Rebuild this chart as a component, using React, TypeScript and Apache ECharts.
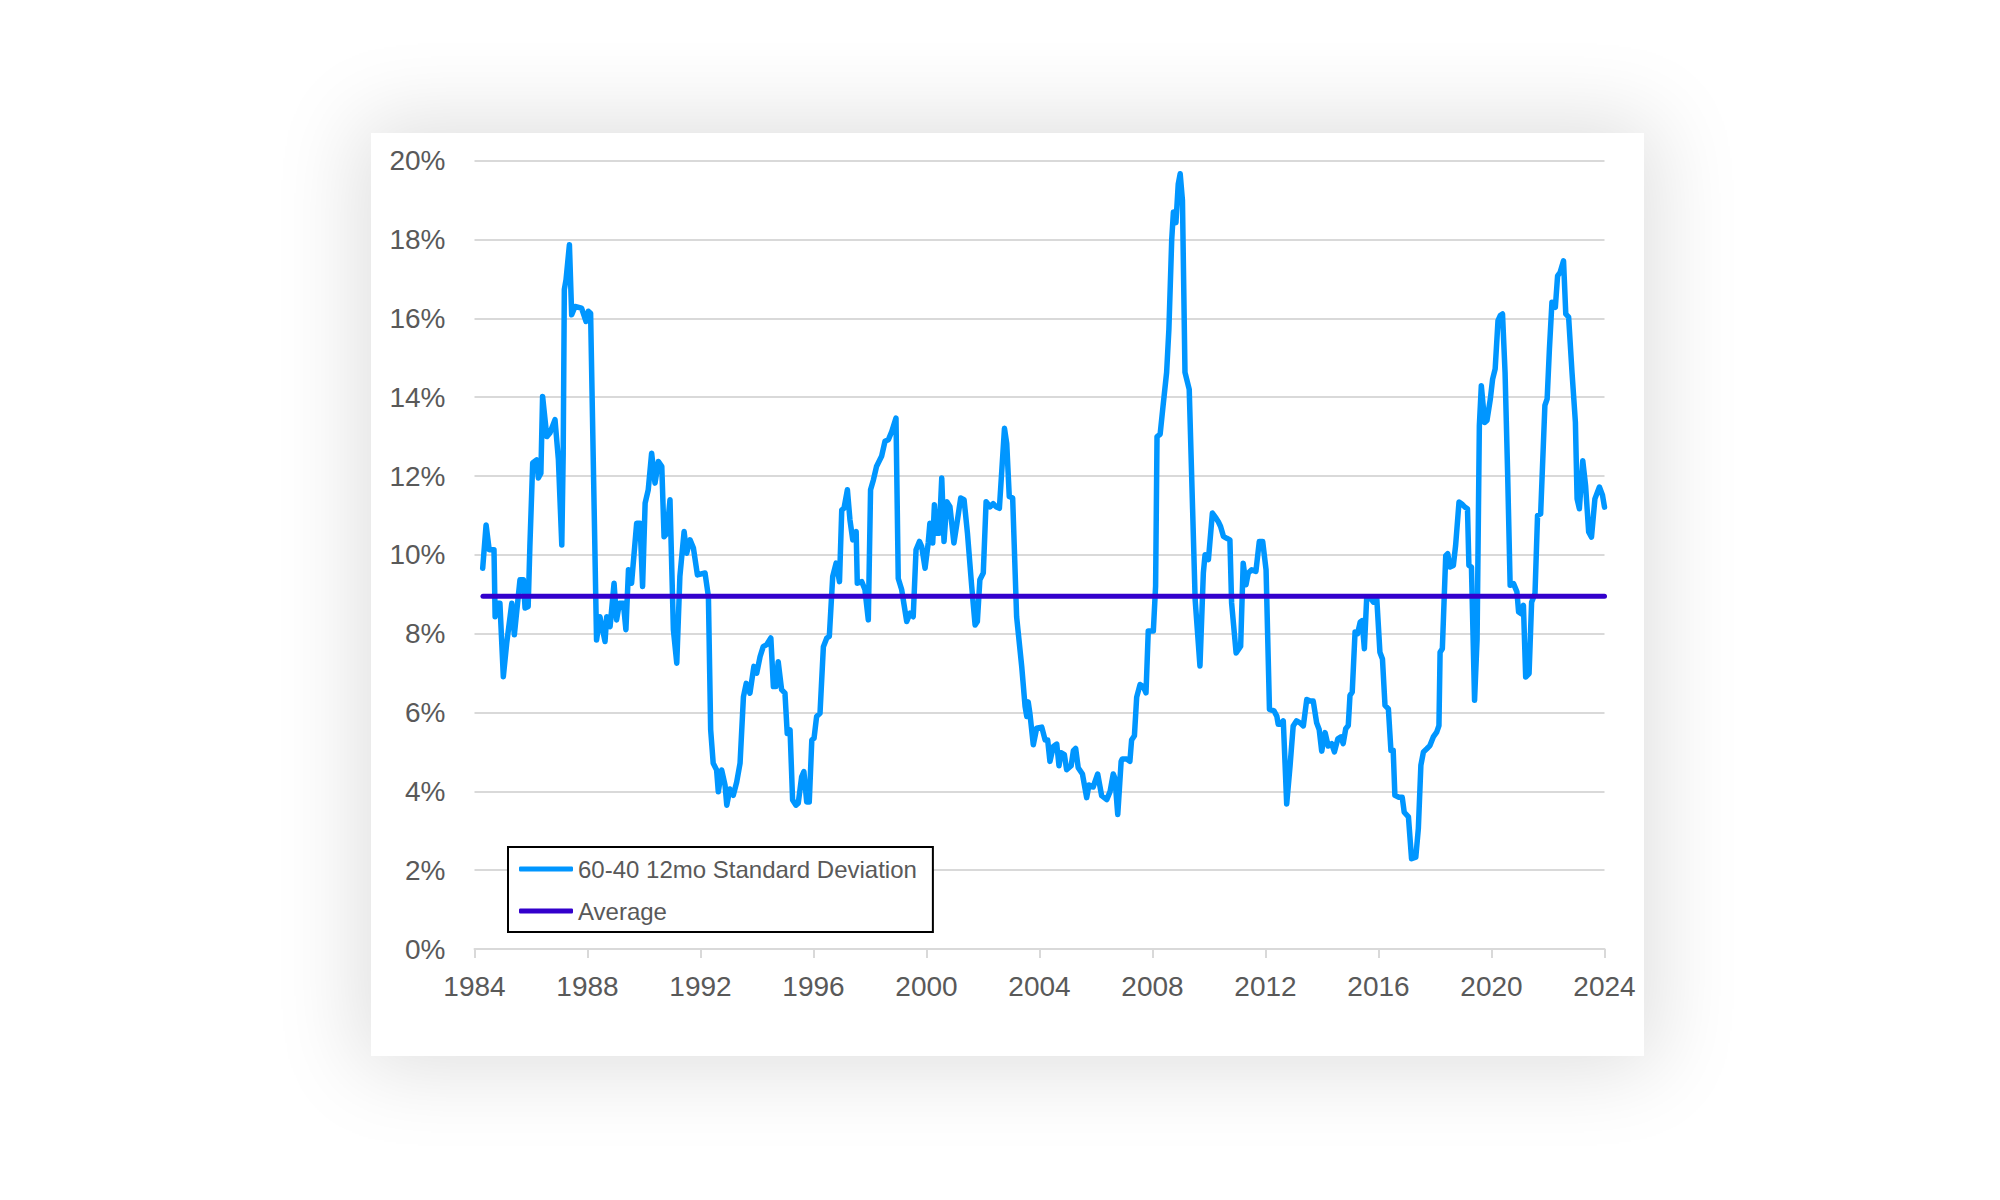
import React, { useEffect, useRef } from "react";
import * as echarts from "echarts";

// Decimal years of the traced vertices of the 12-month standard deviation line
const years: number[] = [
  1984.29, 1984.41, 1984.52, 1984.69, 1984.73, 1984.81, 1984.9, 1985.02, 1985.14, 1985.32,
  1985.41, 1985.61, 1985.73, 1985.79, 1985.9, 1985.96, 1986.06, 1986.2, 1986.26, 1986.35,
  1986.41, 1986.56, 1986.67, 1986.85, 1986.97, 1987.09, 1987.14, 1987.18, 1987.24, 1987.36,
  1987.44, 1987.56, 1987.79, 1987.95, 1988.03, 1988.11, 1988.32, 1988.44, 1988.5, 1988.62,
  1988.68, 1988.8, 1988.94, 1989.03, 1989.13, 1989.27, 1989.36, 1989.45, 1989.56, 1989.74,
  1989.86, 1989.95, 1990.04, 1990.15, 1990.27, 1990.39, 1990.51, 1990.63, 1990.71, 1990.81,
  1990.92, 1991.04, 1991.16, 1991.27, 1991.42, 1991.51, 1991.63, 1991.75, 1991.89, 1992.16,
  1992.28, 1992.36, 1992.45, 1992.57, 1992.63, 1992.75, 1992.87, 1992.93, 1993.04, 1993.16,
  1993.28, 1993.4, 1993.52, 1993.62, 1993.75, 1993.89, 1993.99, 1994.11, 1994.22, 1994.34,
  1994.49, 1994.58, 1994.67, 1994.75, 1994.87, 1994.99, 1995.07, 1995.17, 1995.26, 1995.38,
  1995.46, 1995.58, 1995.66, 1995.76, 1995.85, 1995.94, 1996.02, 1996.11, 1996.23, 1996.35,
  1996.47, 1996.56, 1996.68, 1996.8, 1996.92, 1997.0, 1997.08, 1997.2, 1997.29, 1997.39,
  1997.51, 1997.55, 1997.71, 1997.82, 1997.94, 1998.02, 1998.12, 1998.23, 1998.41, 1998.53,
  1998.65, 1998.77, 1998.92, 1999.0, 1999.12, 1999.3, 1999.42, 1999.53, 1999.63, 1999.75,
  1999.83, 1999.95, 2000.06, 2000.12, 2000.22, 2000.28, 2000.36, 2000.45, 2000.54, 2000.62,
  2000.72, 2000.83, 2000.97, 2001.07, 2001.21, 2001.33, 2001.45, 2001.6, 2001.72, 2001.8,
  2001.89, 2002.01, 2002.11, 2002.25, 2002.36, 2002.46, 2002.58, 2002.76, 2002.84, 2002.93,
  2003.05, 2003.19, 2003.37, 2003.49, 2003.55, 2003.6, 2003.66, 2003.78, 2003.9, 2004.08,
  2004.2, 2004.29, 2004.37, 2004.49, 2004.61, 2004.69, 2004.76, 2004.88, 2004.96, 2005.12,
  2005.2, 2005.28, 2005.37, 2005.52, 2005.67, 2005.75, 2005.9, 2006.06, 2006.2, 2006.38,
  2006.5, 2006.61, 2006.67, 2006.77, 2006.89, 2006.93, 2007.09, 2007.2, 2007.26, 2007.36,
  2007.44, 2007.56, 2007.67, 2007.77, 2007.85, 2008.03, 2008.11, 2008.16, 2008.27, 2008.38,
  2008.5, 2008.58, 2008.68, 2008.74, 2008.83, 2008.91, 2008.98, 2009.06, 2009.15, 2009.3,
  2009.51, 2009.68, 2009.8, 2009.86, 2009.98, 2010.12, 2010.25, 2010.33, 2010.41, 2010.51,
  2010.63, 2010.74, 2010.8, 2010.96, 2011.12, 2011.21, 2011.31, 2011.39, 2011.51, 2011.66,
  2011.78, 2011.9, 2012.02, 2012.14, 2012.3, 2012.4, 2012.45, 2012.53, 2012.63, 2012.75,
  2012.87, 2012.98, 2013.1, 2013.22, 2013.34, 2013.46, 2013.58, 2013.69, 2013.81, 2013.9,
  2013.99, 2014.11, 2014.22, 2014.34, 2014.44, 2014.56, 2014.67, 2014.75, 2014.84, 2014.93,
  2014.99, 2015.07, 2015.17, 2015.26, 2015.35, 2015.42, 2015.5, 2015.58, 2015.69, 2015.82,
  2015.94, 2016.05, 2016.14, 2016.23, 2016.35, 2016.44, 2016.52, 2016.58, 2016.72, 2016.84,
  2016.91, 2017.06, 2017.17, 2017.32, 2017.41, 2017.5, 2017.59, 2017.71, 2017.82, 2017.94,
  2018.06, 2018.14, 2018.18, 2018.26, 2018.38, 2018.45, 2018.53, 2018.65, 2018.73, 2018.85,
  2018.95, 2019.06, 2019.15, 2019.2, 2019.29, 2019.4, 2019.49, 2019.57, 2019.64, 2019.76,
  2019.84, 2019.96, 2020.04, 2020.13, 2020.23, 2020.31, 2020.39, 2020.48, 2020.57, 2020.66,
  2020.78, 2020.9, 2020.96, 2021.05, 2021.13, 2021.21, 2021.33, 2021.42, 2021.54, 2021.63,
  2021.74, 2021.89, 2021.97, 2022.05, 2022.14, 2022.26, 2022.34, 2022.43, 2022.55, 2022.63,
  2022.73, 2022.85, 2022.97, 2023.03, 2023.11, 2023.23, 2023.33, 2023.44, 2023.54, 2023.66,
  2023.82, 2023.93, 2024.0,
];

// 60-40 portfolio 12-month standard deviation, in percent
const stdDev: number[] = [
  9.66, 10.76, 10.13, 10.13, 8.43, 8.77, 8.77, 6.91, 7.76, 8.77,
  7.97, 9.37, 9.37, 8.65, 8.69, 10.21, 12.33, 12.41, 11.95, 12.07,
  14.02, 13.0, 13.09, 13.43, 12.41, 10.25, 12.58, 16.73, 16.98, 17.87,
  16.09, 16.3, 16.26, 15.92, 16.18, 16.13, 7.84, 8.43, 8.22, 7.8,
  8.43, 8.18, 9.28, 8.35, 8.77, 8.77, 8.1, 9.62, 9.28, 10.8,
  10.8, 9.2, 11.31, 11.65, 12.58, 11.82, 12.37, 12.24, 10.46, 10.55,
  11.4, 8.1, 7.25, 9.45, 10.59, 10.04, 10.38, 10.17, 9.49, 9.54,
  8.94, 5.56, 4.71, 4.54, 3.99, 4.54, 4.15, 3.65, 4.06, 3.9,
  4.23, 4.71, 6.4, 6.74, 6.49, 7.17, 7.0, 7.42, 7.67, 7.72,
  7.89, 6.66, 6.66, 7.29, 6.58, 6.49, 5.47, 5.56, 3.78, 3.65,
  3.7, 4.37, 4.5, 3.73, 3.73, 5.3, 5.35, 5.9, 5.98, 7.67,
  7.89, 7.93, 9.45, 9.79, 9.32, 11.14, 11.18, 11.65, 10.89, 10.38,
  10.59, 9.28, 9.32, 9.12, 8.35, 11.65, 11.9, 12.24, 12.5, 12.88,
  12.92, 13.13, 13.47, 9.4, 9.12, 8.31, 8.52, 8.43, 10.13, 10.34,
  10.21, 9.66, 10.3, 10.8, 10.3, 11.27, 10.55, 10.55, 11.95, 10.34,
  11.35, 11.22, 10.3, 10.76, 11.44, 11.4, 10.55, 9.2, 8.22, 8.31,
  9.37, 9.54, 11.35, 11.22, 11.3, 11.22, 11.18, 13.21, 12.83, 11.48,
  11.44, 8.43, 7.17, 6.15, 5.9, 6.27, 5.98, 5.18, 5.6, 5.63,
  5.3, 5.3, 4.76, 5.14, 5.2, 4.65, 4.98, 4.93, 4.55, 4.65,
  5.03, 5.09, 4.6, 4.44, 3.84, 4.16, 4.11, 4.44, 3.89, 3.79,
  4.0, 4.44, 4.33, 3.41, 4.76, 4.82, 4.82, 4.76, 5.3, 5.41,
  6.39, 6.71, 6.66, 6.5, 8.07, 8.07, 9.21, 13.0, 13.06, 13.82,
  14.63, 15.72, 17.99, 18.7, 18.43, 19.4, 19.67, 19.0, 14.63, 14.2,
  8.86, 7.18, 9.54, 10.0, 9.88, 11.06, 10.93, 10.84, 10.72, 10.47,
  10.42, 10.38, 8.78, 7.51, 7.68, 9.79, 9.24, 9.54, 9.62, 9.58,
  10.34, 10.34, 9.62, 6.08, 6.04, 5.91, 5.7, 5.7, 5.79, 3.68,
  4.65, 5.66, 5.79, 5.74, 5.66, 6.33, 6.29, 6.29, 5.74, 5.57,
  5.02, 5.49, 5.15, 5.21, 5.0, 5.33, 5.38, 5.21, 5.59, 5.67,
  6.43, 6.52, 8.04, 8.0, 8.29, 8.33, 7.62, 8.88, 8.93, 8.8,
  8.88, 7.53, 7.36, 6.18, 6.09, 5.04, 5.04, 3.9, 3.85, 3.85,
  3.47, 3.35, 2.29, 2.33, 3.05, 4.66, 5.0, 5.08, 5.16, 5.38,
  5.5, 5.67, 7.53, 7.62, 9.98, 10.03, 9.69, 9.73, 10.24, 11.34,
  11.29, 11.21, 11.17, 9.73, 9.69, 6.31, 7.87, 13.28, 14.29, 13.36,
  13.41, 13.96, 14.46, 14.72, 15.94, 16.07, 16.11, 14.63, 12.1, 9.23,
  9.27, 9.06, 8.55, 8.51, 8.72, 6.9, 6.99, 8.8, 9.02, 11.0,
  11.04, 13.79, 13.96, 15.22, 16.41, 16.28, 17.08, 17.17, 17.46, 16.11,
  16.03, 14.63, 13.36, 11.42, 11.17, 12.39, 11.76, 10.58, 10.45, 11.42,
  11.72, 11.51, 11.21,
];

const averageValue = 8.95;
const averageSpan: number[] = [1984.3, 2024.0];

const seriesNames: string[] = ["60-40 12mo Standard Deviation", "Average"];

const xMin = 1984;
const xMax = 2024;
const xStep = 4;
const yMin = 0;
const yMax = 20;
const yStep = 2;

const FONT = "'Liberation Sans', Arial, Helvetica, sans-serif";

export default function App() {
  const ref = useRef<HTMLDivElement>(null);

  useEffect(() => {
    if (!ref.current) return;
    const chart = echarts.init(ref.current, undefined, { renderer: "svg" });
    const lineData = years.map((y, i) => [y, stdDev[i]]);
    const avgData = averageSpan.map((y) => [y, averageValue]);

    chart.setOption({
      animation: false,
      backgroundColor: "#ffffff",
      grid: { left: 103.5, right: 39.5, top: 27.7, bottom: 107, containLabel: false },
      xAxis: {
        type: "value",
        min: xMin,
        max: xMax,
        interval: xStep,
        axisLine: { show: true, lineStyle: { color: "#d9d9d9", width: 2 } },
        axisTick: { show: true, length: 9, lineStyle: { color: "#d9d9d9", width: 2 } },
        splitLine: { show: false },
        axisLabel: {
          color: "#595959",
          fontSize: 28,
          fontFamily: FONT,
          margin: 23,
          formatter: (v: number) => String(Math.round(v)),
        },
      },
      yAxis: {
        type: "value",
        min: yMin,
        max: yMax,
        interval: yStep,
        axisLine: { show: false },
        axisTick: { show: false },
        splitLine: { show: true, lineStyle: { color: "#d9d9d9", width: 2 } },
        axisLabel: {
          color: "#595959",
          fontSize: 28,
          fontFamily: FONT,
          margin: 29,
          formatter: "{value}%",
        },
      },
      legend: {
        orient: "vertical",
        left: 137,
        top: 714,
        padding: [10, 16, 9, 11],
        itemGap: 18,
        itemWidth: 54,
        itemHeight: 5,
        icon: "roundRect",
        borderColor: "#000000",
        borderWidth: 2,
        borderRadius: 0,
        backgroundColor: "#ffffff",
        textStyle: { color: "#595959", fontSize: 24, fontFamily: FONT, lineHeight: 24 },
        data: seriesNames,
      },
      series: [
        {
          name: seriesNames[0],
          type: "line",
          data: lineData,
          symbol: "none",
          showSymbol: false,
          smooth: false,
          lineStyle: { color: "#0096FF", width: 5.5, cap: "round", join: "round" },
          itemStyle: { color: "#0096FF" },
          z: 2,
        },
        {
          name: seriesNames[1],
          type: "line",
          data: avgData,
          symbol: "none",
          showSymbol: false,
          lineStyle: { color: "#3300CC", width: 5, cap: "round" },
          itemStyle: { color: "#3300CC" },
          z: 3,
        },
      ],
    });
    return () => chart.dispose();
  }, []);

  return (
    <div
      style={{
        position: "fixed",
        left: 0,
        top: 0,
        width: 2000,
        height: 1200,
        background: "#ffffff",
        overflow: "hidden",
      }}
    >
      <div
        style={{
          position: "absolute",
          left: 371,
          top: 133,
          width: 1273,
          height: 923,
          background: "#ffffff",
          boxShadow: "0 0 80px 12px rgba(0,0,0,0.13)",
        }}
      >
        <div ref={ref} style={{ width: 1273, height: 923 }} />
      </div>
    </div>
  );
}
